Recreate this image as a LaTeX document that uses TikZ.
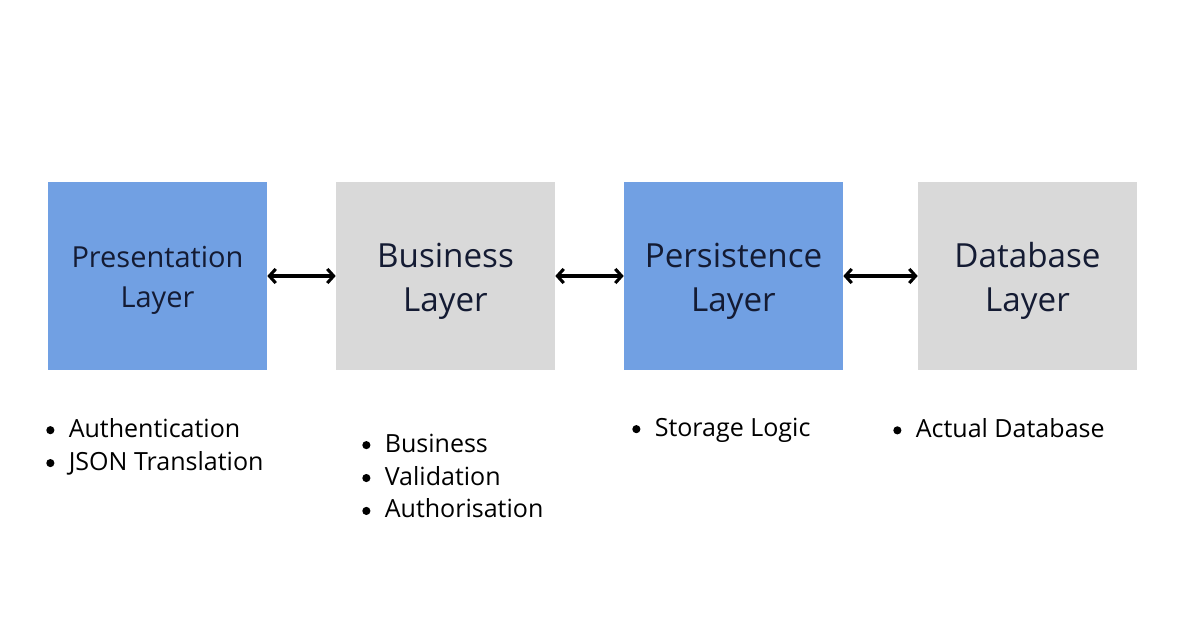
\documentclass[tikz,border=0pt]{standalone}
\usepackage{fontspec}
\setmainfont{Open Sans}
\usepackage{tikz}
\usetikzlibrary{arrows.meta, positioning}

\definecolor{layerblue}{HTML}{71A0E3}
\definecolor{layergray}{HTML}{D9D9D9}
\definecolor{inktext}{HTML}{141B33}
\newcommand{\dotmark}{\makebox[16pt][l]{\tikz[baseline=0pt]\fill (2.9pt,5pt) circle (2.9pt);}}

\begin{document}
\begin{tikzpicture}[x=0.025cm, y=-0.025cm,
    layer/.style={minimum width=5.475cm, minimum height=4.7cm, inner sep=0pt},
    bluelayer/.style={layer, fill=layerblue},
    graylayer/.style={layer, fill=layergray},
    layertext/.style={align=center, text=inktext, yshift=-3.6pt,
        font=\fontsize{23.6}{31}\selectfont},
    link/.style={{Straight Barb[length=4.5pt,width=10pt]}-{Straight Barb[length=4.5pt,width=10pt]}, line width=2.2pt},
    points/.style={anchor=west, align=left, inner sep=0pt, text=black,
        font=\fontsize{17.8}{23.4}\selectfont}
  ]
  \useasboundingbox (0,0) rectangle (1200,630);
  %\draw [step=50] (0,0) grid (1200,630);
  \node[bluelayer, label={[name=presname, layertext, yshift=0.7pt, font=\fontsize{20.6}{28.4}\selectfont]center:Presentation\\Layer}] (pres) at (157.5,276) {};
  \node[graylayer, label={[name=businame, layertext]center:Business\\Layer}] (busi) at (445.5,276) {};
  \node[bluelayer, label={[name=persname, layertext]center:Persistence\\Layer}] (pers) at (733.5,276) {};
  \node[graylayer, label={[name=dataname, layertext]center:Database\\Layer}] (data) at (1027.5,276) {};

  \draw[link] (pres) -- (busi);
  \draw[link] (busi) -- (pers);
  \draw[link] (pers) -- (data);

  % lists under the layers
  \node[points] (preslist) at (46,446.5) {\dotmark Authentication\\\dotmark JSON Translation};
  \node[points] (busilist) at (362,476) {\dotmark Business\\\dotmark Validation\\\dotmark Authorisation};
  \node[points] (perslist) at (632,430) {\dotmark Storage Logic};
  \node[points] (datalist) at (893,428) {\dotmark Actual Database};
\end{tikzpicture}
\end{document}
